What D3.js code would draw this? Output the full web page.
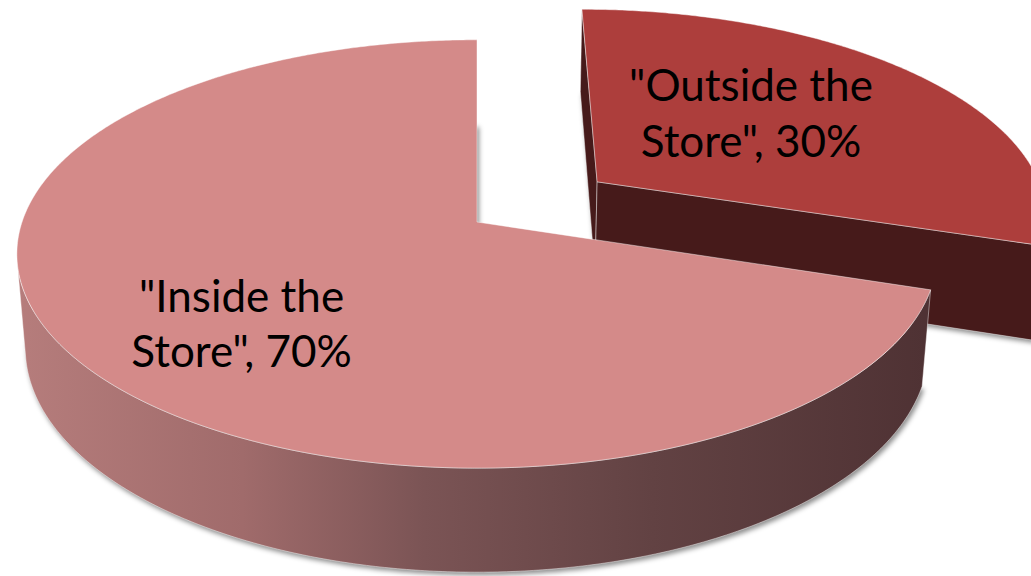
<!DOCTYPE html>
<html>
<head>
<meta charset="utf-8">
<script src="https://cdn.jsdelivr.net/npm/d3@7"></script>
<style>
  body { margin: 0; background: #fff; }
  svg { display: block; }
</style>
</head>
<body>
<svg id="chart" width="1031" height="576"></svg>
<script>
// chart data
const categories = ['"Outside the Store"', '"Inside the Store"'];
const shares = [30, 70];

// colours per slice
const topColors = ["#ad3e3c", "#d48a89"];
const sideColors = ["#461a1a", "url(#sideGrad)"];

// camera / layout of the 3d pie
const view = {
  cx: 477, cy: 222,      // screen position of pie centre (top face)
  s: 2707,               // focal scale
  D: 5.95,               // camera distance (in radii)
  phi: 27.4 * Math.PI / 180, // tilt
  R: 1, H: 0.235,        // radius, thickness
  explode: [0.336, 0],
  labelAt: [{ r: 0.53, da: -8 }, { r: 0.66, da: -7 }]
};
const sp = Math.sin(view.phi), cp = Math.cos(view.phi);
const eye = [0, view.D * sp, view.D * cp];

function project(X, Y, Z) {
  const den = view.D - Y * sp - Z * cp;
  return [view.cx + view.s * X / den, view.cy - view.s * (Y * cp - Z * sp) / den];
}
function world(sl, a, r, Y) {
  return [sl.ox + r * Math.sin(a), Y, sl.oz - r * Math.cos(a)];
}
function pt(sl, a, r, Y) {
  const w = world(sl, a, r, Y);
  return project(w[0], w[1], w[2]);
}
function arcPts(sl, Y, a0, a1) {
  const n = Math.max(2, Math.ceil(Math.abs(a1 - a0) / (Math.PI / 360)));
  return d3.range(n + 1).map(k => pt(sl, a0 + (a1 - a0) * k / n, view.R, Y));
}

const pie = d3.pie().sort(null).value(d => d)(shares);
const slices = pie.map((p, i) => {
  const mid = (p.startAngle + p.endAngle) / 2;
  const e = view.explode[i];
  return Object.assign({}, p, { i: i, mid: mid, ox: e * Math.sin(mid), oz: -e * Math.cos(mid) });
});

const svg = d3.select("#chart");
const defs = svg.append("defs");

const grad = defs.append("linearGradient")
  .attr("id", "sideGrad")
  .attr("gradientUnits", "userSpaceOnUse")
  .attr("x1", 15).attr("x2", 925).attr("y1", 0).attr("y2", 0);
[["0%", "#b67d7c"], ["25%", "#a06b6b"], ["45%", "#7b5455"], ["70%", "#624243"], ["100%", "#4f3234"]]
  .forEach(s => grad.append("stop").attr("offset", s[0]).attr("stop-color", s[1]));

defs.append("filter").attr("id", "blur")
  .attr("x", "-10%").attr("y", "-10%").attr("width", "120%").attr("height", "120%")
  .append("feGaussianBlur").attr("stdDeviation", 2.5);

const line = d3.line();
const closed = pts => line(pts) + "Z";

// shadows under the slices
const shadow = svg.append("g").attr("filter", "url(#blur)").attr("transform", "translate(2,3)");
slices.forEach(sl => {
  const pts = [pt(sl, 0, 0, -view.H)].concat(arcPts(sl, -view.H, sl.startAngle, sl.endAngle));
  shadow.append("path").attr("d", closed(pts)).attr("fill", "#000").attr("opacity", 0.45);
});

const edge = "rgba(255,255,255,0.55)";

// draw slices, back one (exploded) first
slices.forEach(sl => {
  const g = svg.append("g");

  // cut faces
  [[sl.startAngle, -1], [sl.endAngle, 1]].forEach(([a, dir]) => {
    const n = [dir * Math.cos(a), 0, dir * Math.sin(a)];
    const c = world(sl, a, 0, 0);
    const dot = n[0] * (eye[0] - c[0]) + n[1] * (eye[1] - c[1]) + n[2] * (eye[2] - c[2]);
    if (dot <= 0.01) return;
    const pts = [pt(sl, a, 0, 0), pt(sl, a, view.R, 0), pt(sl, a, view.R, -view.H), pt(sl, a, 0, -view.H)];
    g.append("path").attr("d", closed(pts))
      .attr("fill", sl.i === 0 ? sideColors[0] : "#4f3234")
      .attr("stroke", edge).attr("stroke-width", 0.8).attr("stroke-linejoin", "round");
  });

  // outer wall, only the parts facing the camera
  const step = Math.PI / 360;
  const angles = d3.range(sl.startAngle, sl.endAngle, step).concat([sl.endAngle]);
  const visible = a => {
    const w = world(sl, a, view.R, 0);
    return Math.sin(a) * (eye[0] - w[0]) - Math.cos(a) * (eye[2] - w[2]) > 0;
  };
  let runs = [], cur = null;
  angles.forEach(a => {
    if (visible(a)) { if (!cur) { cur = [a, a]; runs.push(cur); } else cur[1] = a; }
    else cur = null;
  });
  runs.forEach(([a0, a1]) => {
    const pts = arcPts(sl, 0, a0, a1).concat(arcPts(sl, -view.H, a1, a0));
    g.append("path").attr("d", closed(pts))
      .attr("fill", sideColors[sl.i])
      .attr("stroke", edge).attr("stroke-width", 0.8).attr("stroke-linejoin", "round");
  });

  // top face
  const top = [pt(sl, 0, 0, 0)].concat(arcPts(sl, 0, sl.startAngle, sl.endAngle));
  g.append("path").attr("d", closed(top))
    .attr("fill", topColors[sl.i])
    .attr("stroke", edge).attr("stroke-width", 0.8).attr("stroke-linejoin", "round");
});

// labels
slices.forEach(sl => {
  const la = view.labelAt[sl.i];
  const p = pt(sl, sl.mid + la.da * Math.PI / 180, la.r, 0);
  const words = categories[sl.i].split(" ");
  const lines = [words.slice(0, -1).join(" "), words[words.length - 1] + ", " + shares[sl.i] + "%"];
  const t = svg.append("text")
    .attr("text-anchor", "middle")
    .attr("font-family", "Lato, 'Open Sans', sans-serif")
    .attr("font-size", 44)
    .attr("fill", "#000");
  lines.forEach((l, k) => {
    t.append("tspan").attr("x", p[0]).attr("y", p[1] + (k === 0 ? -11.5 : 44)).text(l);
  });
});
</script>
</body>
</html>
